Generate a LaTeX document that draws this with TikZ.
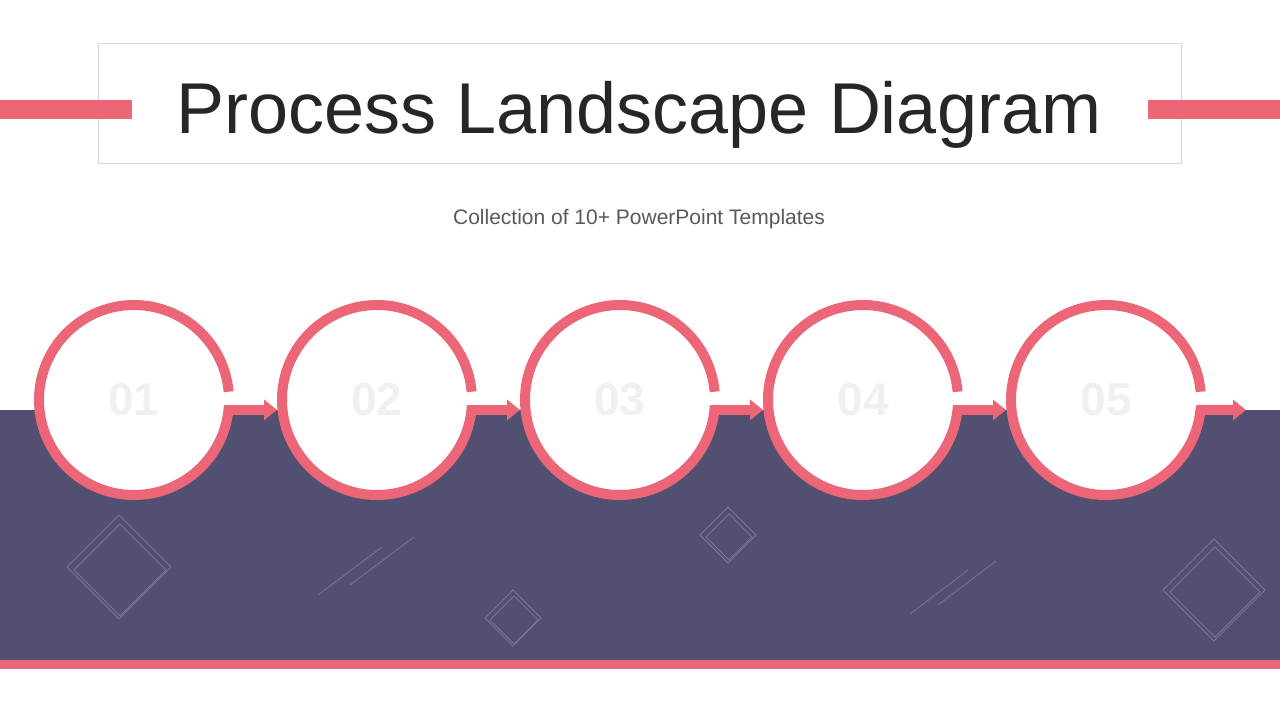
\documentclass[tikz,border=0pt]{standalone}
\usepackage{fontspec}
\setmainfont{Liberation Sans}
\usetikzlibrary{arrows.meta,positioning}
\definecolor{pink}{RGB}{236,102,120}
\definecolor{band}{RGB}{82,80,112}
\definecolor{deco}{RGB}{118,116,154}
\definecolor{num}{RGB}{240,240,240}
\definecolor{frame}{RGB}{217,217,217}

\begin{document}
\begin{tikzpicture}[x=1pt,y=-1pt,% pixel grid of the slide
					every node/.style={
						inner sep=0pt,
						outer sep=0pt
						},
					step circle/.style={circle,minimum size=190pt,fill=white,text=num,font=\fontsize{46}{46}\selectfont\bfseries},
					ring/.style={draw=pink,line width=10pt},
					flow/.style={draw=pink,line width=10pt,-{Triangle[length=13pt,width=20pt]}},
					decoline/.style={draw=deco,line width=0.8pt}
					]
\useasboundingbox (0,0) rectangle (1280,720);
% title
\node[draw=frame,line width=1pt,minimum width=1083pt,minimum height=120pt](T) at (639.5,103){};
\node[anchor=base,text=black!85,font=\fontsize{72}{72}\selectfont](title) at (639,133){Process Landscape Diagram};
\fill[pink] (0,100) rectangle (132,119);
\fill[pink] (1148,100) rectangle (1280,119);
\node[anchor=base,text=black!65,font=\fontsize{21}{21}\selectfont](sub) at (639,224){Collection of 10+ PowerPoint Templates};
% band
\fill[band] (0,410) rectangle (1280,660);
\fill[pink] (0,660) rectangle (1280,669);
% decorations
\draw[decoline] (119,515) -- (171,567) -- (119,619) -- (67,567) -- cycle;
\draw[decoline] (120,524) -- (166,570) -- (120,616) -- (74,570) -- cycle;
\draw[decoline] (513,590) -- (541,618) -- (513,646) -- (485,618) -- cycle;
\draw[decoline] (514,596) -- (538,620) -- (514,644) -- (490,620) -- cycle;
\draw[decoline] (728,507) -- (756,535) -- (728,563) -- (700,535) -- cycle;
\draw[decoline] (729,514) -- (752,537) -- (729,560) -- (706,537) -- cycle;
\draw[decoline] (1214,539) -- (1265,590) -- (1214,641) -- (1163,590) -- cycle;
\draw[decoline] (1215,547) -- (1260,592) -- (1215,637) -- (1170,592) -- cycle;
\draw[decoline] (318,595) -- (382,547);
\draw[decoline] (350,585) -- (414,537);
\draw[decoline] (910,614) -- (968,570);
\draw[decoline] (938,605) -- (996,561);
% steps
\node[step circle](C1) at (134,400){01};
\node[step circle](C2)[right=53pt of C1]{02};
\node[step circle](C3)[right=53pt of C2]{03};
\node[step circle](C4)[right=53pt of C3]{04};
\node[step circle](C5)[right=53pt of C4]{05};
\draw[ring] (C1.5) arc[start angle=5,end angle=356,radius=95pt];
\draw[ring] (C2.5) arc[start angle=5,end angle=356,radius=95pt];
\draw[ring] (C3.5) arc[start angle=5,end angle=356,radius=95pt];
\draw[ring] (C4.5) arc[start angle=5,end angle=356,radius=95pt];
\draw[ring] (C5.5) arc[start angle=5,end angle=356,radius=95pt];
\coordinate (E) at (1246,410);
\path[flow]
([xshift=-4pt]C1.-6) -- ([xshift=-5pt]C2.west |- C1.-6)
;
\path[flow] ([xshift=-4pt]C2.-6) -- ([xshift=-5pt]C3.west |- C2.-6);
\path[flow] ([xshift=-4pt]C3.-6) -- ([xshift=-5pt]C4.west |- C3.-6);
\path[flow] ([xshift=-4pt]C4.-6) -- ([xshift=-5pt]C5.west |- C4.-6);
\path[flow] ([xshift=-4pt]C5.-6) -- (E);
\end{tikzpicture}
\end{document}
